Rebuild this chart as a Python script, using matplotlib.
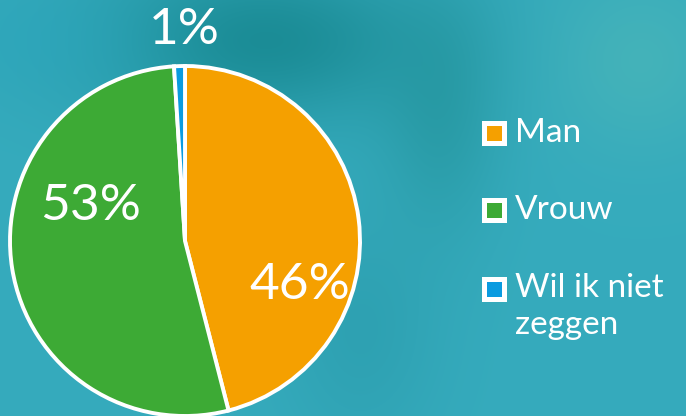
import numpy as np
import matplotlib.pyplot as plt
from matplotlib.patches import Rectangle

# data
categories = ['Man', 'Vrouw', 'Wil ik niet\nzeggen']
shares = [46, 53, 1]
colors = ['#f5a000', '#3daa35', '#0a9be0']

W, H = 686, 416
fig = plt.figure(figsize=(W / 100, H / 100), dpi=100)

# teal photo-like backdrop
yy, xx = np.mgrid[0:H, 0:W]
base = np.array([0.21, 0.67, 0.74])
img = np.ones((H, W, 3)) * base


def blob(cx, cy, sx, sy, col, strength):
    g = np.exp(-(((xx - cx) / sx) ** 2 + ((yy - cy) / sy) ** 2))[..., None] * strength
    return g * (np.array(col) - img)


img += blob(260, 40, 170, 80, [0.08, 0.52, 0.55], 0.8)
img += blob(440, 110, 60, 120, [0.12, 0.56, 0.58], 0.5)
img += blob(640, 60, 90, 90, [0.30, 0.72, 0.72], 0.6)
img += blob(40, 40, 120, 60, [0.17, 0.65, 0.74], 0.5)
img += blob(360, 330, 80, 120, [0.14, 0.58, 0.64], 0.4)

bg = fig.add_axes([0, 0, 1, 1])
bg.imshow(np.clip(img, 0, 1), extent=[0, W, 0, H], aspect='auto')
bg.axis('off')

font = dict(color='white', family='Lato', fontweight='normal')

ax = fig.add_axes([0, 0, 1, 1])
ax.set_facecolor('none')
cx, cy, r = 185, H - 241, 175
wedges, texts, autotexts = ax.pie(
    shares, colors=colors, startangle=90, counterclock=False,
    center=(cx, cy), radius=r, frame=True,
    autopct=lambda p: f'{round(p)}%', pctdistance=0.7,
    wedgeprops=dict(edgecolor='white', linewidth=2.8),
    textprops=dict(fontsize=37, **font),
)
label_pos = [(300, H - 285), (91, H - 206), (184, H - 30)]
for t, (px, py) in zip(autotexts, label_pos):
    t.set_position((px, py))
    t.set_ha('center')
    t.set_va('center')
ax.set_xlim(0, W)
ax.set_ylim(0, H)
ax.set_aspect('auto')
ax.axis('off')

# legend
leg_y = [133, 210, 289]
for name, col, ly in zip(categories, colors, leg_y):
    ax.add_patch(Rectangle((482, H - ly - 12.5), 25, 25, facecolor='white', edgecolor='none'))
    ax.add_patch(Rectangle((487, H - ly - 7.5), 15, 15, facecolor=col, edgecolor='none'))
    if '\n' in name:
        ax.text(515, H - ly + 16, name, fontsize=24, va='top', ha='left',
                linespacing=1.3, **font)
    else:
        ax.text(515, H - ly, name, fontsize=24, va='center', ha='left', **font)

fig.savefig('out.png', dpi=100)
